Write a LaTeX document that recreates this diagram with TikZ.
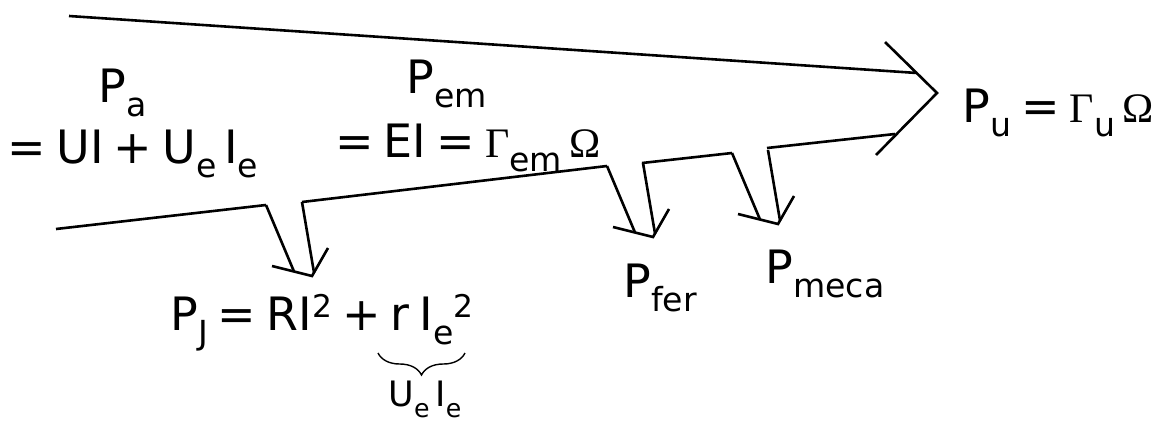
\documentclass[tikz,border=0pt]{standalone}
\usepackage{fontspec}
\setmainfont{DejaVu Sans}
\newfontfamily\grk{Liberation Serif}
\usepackage{graphicx}
\usepackage{tikz}
\usetikzlibrary{decorations.pathreplacing, positioning}

\newcommand{\lo}[1]{\raisebox{-0.32em}{\scalebox{0.72}{#1}}}
\newcommand{\hi}[1]{\raisebox{0.27em}{\scalebox{0.68}{#1}}}
\newcommand{\gk}[1]{{\grk\fontsize{42}{42}\selectfont #1}}

\begin{document}
\begin{tikzpicture}[x=1pt, y=-1pt, line width=2.6pt,
  lbl/.style={font=\fontsize{46}{50}\selectfont, inner sep=0pt, anchor=base,
    execute at begin node={\spaceskip=.22em\relax}}]
  \useasboundingbox (0,0) rectangle (1156,426);
  % Main flow: upper edge and big arrow head
  \draw (69,16) -- (917,73);
  \draw (885,42) -- (937,93) -- (876,155);
  % Lower edge, cut by the three losses
  \draw (56,229) -- (266,205);
  \draw (302,202) -- (607,166);
  \draw (642,163) -- (732,153);
  \draw (767,148) -- (895,134);
  % Loss arrows (Joule, iron, mechanical)
  \foreach \cx/\cy in {266/205, 607/166, 732/153} {
    \begin{scope}[shift={(\cx,\cy)}]
      \draw (0,0) -- (28,66.5);
      \draw (36,-3) -- (48,67.5);
      \draw (6,61) -- (46,71) -- (62,43);
    \end{scope}
  }
  % Powers along the flow
  \node[lbl] (pa) at (123,102) {P\lo{a}};
  \node[lbl] (paval) at (133,163) {= UI + U\lo{e}\,I\lo{e}};
  \node[lbl] (pem) at (447,93) {P\lo{em}};
  \node[lbl] (pemval) at (468,157) {= EI = \gk{Γ}\lo{em}\,\gk{Ω}};
  \node[lbl, anchor=base west] (pu) at (961,122) {P\lo{u} = \gk{Γ}\lo{u}\,\gk{Ω}};
  % Losses
  \node[lbl] (pj) at (322,330) {P\lo{J} = RI\hi{2} + r I\lo{e}\hi{2}};
  \node[lbl] (pfer) at (660,297) {P\lo{fer}};
  \node[lbl] (pmeca) at (825,283) {P\lo{meca}};
  % Excitation part
  \draw[line width=1.4pt, decorate, decoration={brace, mirror, amplitude=22pt}]
    (378,353) -- (465,353);
  \node[lbl, font=\fontsize{35}{38}\selectfont] (ueie) at (425,406) {U\lo{e}\,I\lo{e}};
\end{tikzpicture}
\end{document}
